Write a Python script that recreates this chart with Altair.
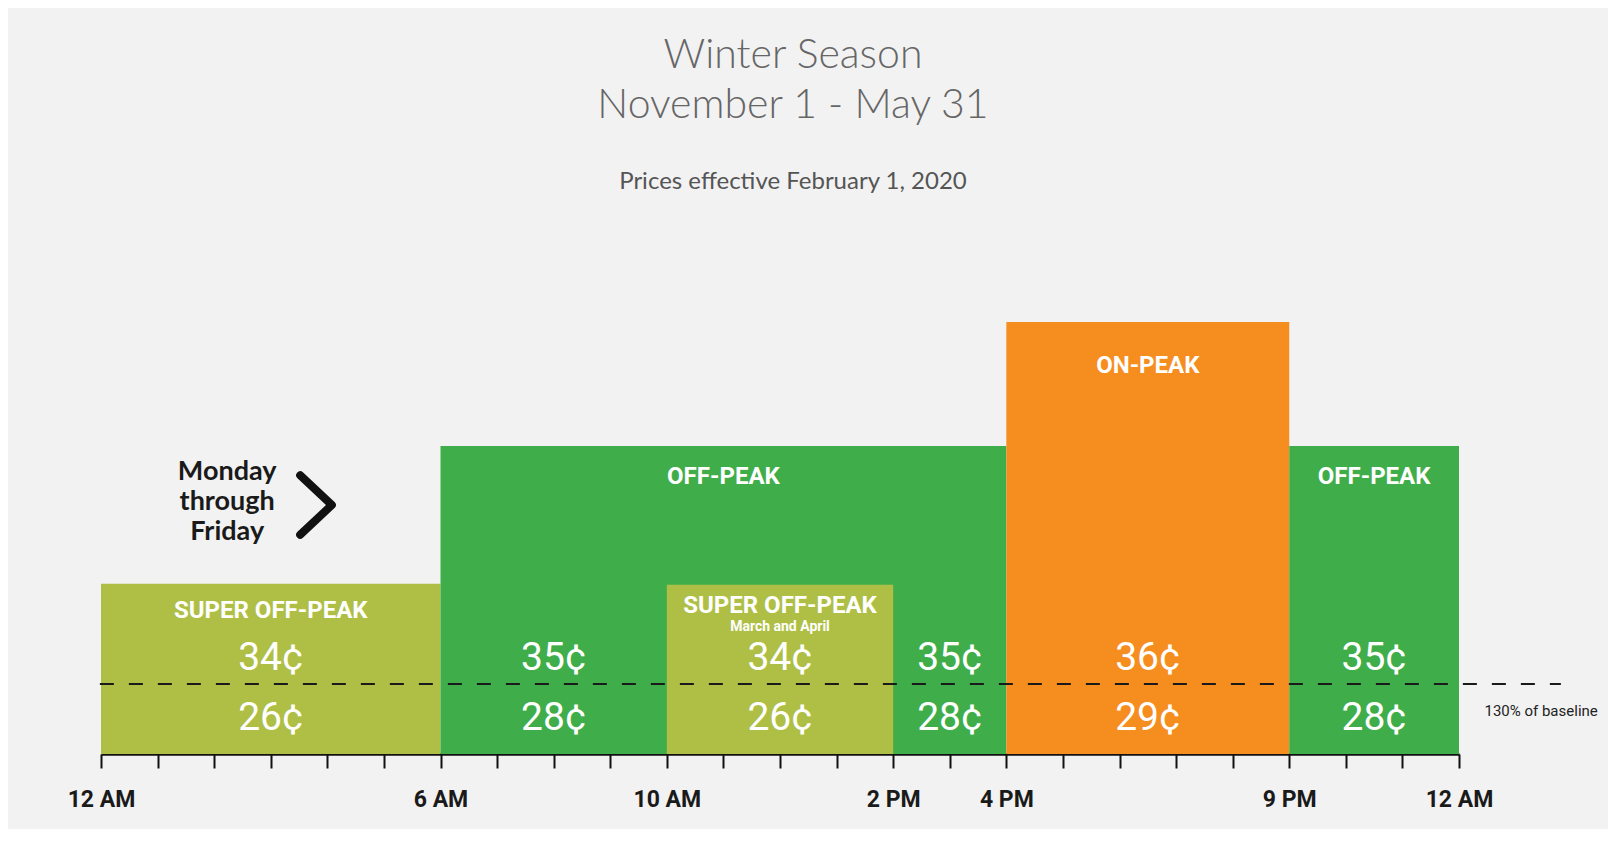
import altair as alt
import pandas as pd

# ---- data ----
BLOCK_START = [0, 6, 10, 16, 21]
BLOCK_END = [6, 16, 14, 21, 24]
BLOCK_LEVEL = [3.43, 6.21, 3.41, 8.71, 6.21]
BLOCK_TYPE = ["Super off-peak", "Off-peak", "Super off-peak", "On-peak", "Off-peak"]
BLOCK_LABEL = ["SUPER OFF-PEAK", "OFF-PEAK", "SUPER OFF-PEAK", "ON-PEAK", "OFF-PEAK"]
BLOCK_NOTE = ["", "", "March and April", "", ""]

PRICE_START = [0, 6, 10, 14, 16, 21]
PRICE_END = [6, 10, 14, 16, 21, 24]
PRICE_HIGH = [34, 35, 34, 35, 36, 35]
PRICE_LOW = [26, 28, 26, 28, 29, 28]

THRESHOLD_LEVEL = [1.41]
THRESHOLD_TEXT = "130% of baseline"

TICK_HOURS = [0, 6, 10, 14, 16, 21, 24]
TICK_LABELS = ["12 AM", "6 AM", "10 AM", "2 PM", "4 PM", "9 PM", "12 AM"]

DAYS_TEXT = ["Monday", "through", "Friday"]
CHEVRON_X = [3.52, 4.08, 3.52]
CHEVRON_Y = [5.62, 5.02, 4.42]

TYPES = ["Super off-peak", "Off-peak", "On-peak"]
COLORS = ["#afbf45", "#3fae4a", "#f68d1f"]

COND = "Roboto, sans-serif"

blocks = pd.DataFrame({"start": BLOCK_START, "end": BLOCK_END, "level": BLOCK_LEVEL,
                       "type": BLOCK_TYPE, "label": BLOCK_LABEL, "note": BLOCK_NOTE})
blocks["order"] = range(len(blocks))
prices = pd.DataFrame({"start": PRICE_START, "end": PRICE_END,
                       "high": PRICE_HIGH, "low": PRICE_LOW})
thr = pd.DataFrame({"y": THRESHOLD_LEVEL})
chev = pd.DataFrame({"x": CHEVRON_X, "y": CHEVRON_Y, "i": range(len(CHEVRON_X))})

label_expr = " : ".join(f"datum.value == {h} ? '{l}'" for h, l in zip(TICK_HOURS, TICK_LABELS)) + " : ''"

xscale = alt.Scale(domain=[0, 24], nice=False, zero=False)
yscale = alt.Scale(domain=[0, 10], nice=False)

xaxis = alt.Axis(values=list(range(25)), labelExpr=label_expr, title=None, grid=False,
                 domainColor="#111", domainWidth=2.5, tickColor="#111", tickWidth=2,
                 tickSize=14, labelFont=COND, labelFontSize=23, labelFontWeight="bold",
                 labelColor="#1a1a1a", labelPadding=20, labelFlush=False, labelOverlap=False)

base = alt.Chart(blocks)

rects = base.mark_rect().encode(
    x=alt.X("start:Q", scale=xscale, axis=xaxis),
    x2="end:Q",
    y=alt.Y("level:Q", scale=yscale, axis=None),
    y2=alt.datum(0),
    color=alt.Color("type:N", scale=alt.Scale(domain=TYPES, range=COLORS), legend=None),
    order="order:Q",
)

def mid_x():
    return alt.X("mid:Q", scale=xscale)

lab_common = dict(color="white", font=COND, fontWeight="bold", fontSize=24, baseline="middle")

lab_main = base.transform_filter("datum.note == '' && datum.type == 'Super off-peak'").transform_calculate(
    mid="(datum.start + datum.end) / 2").mark_text(dy=27, **lab_common).encode(
    x=mid_x(), y=alt.Y("level:Q", scale=yscale), text="label:N")

lab_off = base.transform_filter("datum.type == 'Off-peak'").transform_calculate(
    mid="(datum.start + datum.end) / 2").mark_text(dy=31, **lab_common).encode(
    x=mid_x(), y=alt.Y("level:Q", scale=yscale), text="label:N")

lab_on = base.transform_filter("datum.type == 'On-peak'").transform_calculate(
    mid="(datum.start + datum.end) / 2").mark_text(dy=44, **lab_common).encode(
    x=mid_x(), y=alt.Y("level:Q", scale=yscale), text="label:N")

lab_note_main = base.transform_filter("datum.note != ''").transform_calculate(
    mid="(datum.start + datum.end) / 2").mark_text(dy=21, **lab_common).encode(
    x=mid_x(), y=alt.Y("level:Q", scale=yscale), text="label:N")

lab_note = base.transform_filter("datum.note != ''").transform_calculate(
    mid="(datum.start + datum.end) / 2").mark_text(dy=42, color="white", font=COND,
                                                   fontWeight="bold", fontSize=14,
                                                   baseline="middle").encode(
    x=mid_x(), y=alt.Y("level:Q", scale=yscale), text="note:N")

pbase = alt.Chart(prices).transform_calculate(
    mid="(datum.start + datum.end) / 2",
    hi="datum.high + '¢'",
    lo="datum.low + '¢'",
)
price_common = dict(color="white", font=COND, fontSize=39, baseline="middle")
p_hi = pbase.mark_text(dy=-26, **price_common).encode(
    x=mid_x(), y=alt.datum(THRESHOLD_LEVEL[0], scale=yscale), text="hi:N")
p_lo = pbase.mark_text(dy=34, **price_common).encode(
    x=mid_x(), y=alt.datum(THRESHOLD_LEVEL[0], scale=yscale), text="lo:N")

rule = alt.Chart(thr).mark_rule(color="#1a1a1a", strokeWidth=2, strokeDash=[14, 15]).encode(
    y=alt.Y("y:Q", scale=yscale), x=alt.datum(-0.02), x2=alt.datum(25.8))

thr_text = alt.Chart(thr).mark_text(align="left", baseline="middle", dy=27, font=COND,
                                    fontSize=15, color="#222").encode(
    y=alt.Y("y:Q", scale=yscale), x=alt.datum(24.45), text=alt.value(THRESHOLD_TEXT))

days = alt.Chart(thr).mark_text(text=DAYS_TEXT, lineHeight=30, font="Lato", fontWeight="bold",
                                fontSize=27, color="#1a1a1a", align="center",
                                baseline="middle").encode(
    x=alt.datum(2.23), y=alt.datum(5.69))

chevron = alt.Chart(chev).mark_line(color="#111", strokeWidth=8, strokeCap="round",
                                    strokeJoin="round").encode(
    x=alt.X("x:Q", scale=xscale), y=alt.Y("y:Q", scale=yscale), order="i:Q")

chart = alt.layer(
    rects, lab_main, lab_off, lab_on, lab_note_main, lab_note, p_hi, p_lo, rule, thr_text, days, chevron
).properties(
    width=1358,
    height=496,
    background="#f2f2f2",
    padding={"left": 93, "top": 250, "right": 149, "bottom": 75},
    autosize=alt.AutoSizeParams(type="none"),
    title=alt.TitleParams(
        text=["Winter Season", "November 1 - May 31"],
        subtitle="Prices effective February 1, 2020",
        font="Lato", fontWeight=300, fontSize=41, color="#666666", lineHeight=50,
        subtitleFont="Lato", subtitleFontSize=24, subtitleColor="#555555",
        subtitlePadding=43, anchor="middle", offset=63, dx=13,
    ),
).configure_view(stroke=None)

chart.save("out.html", embed_options={"renderer": "svg", "actions": False})
